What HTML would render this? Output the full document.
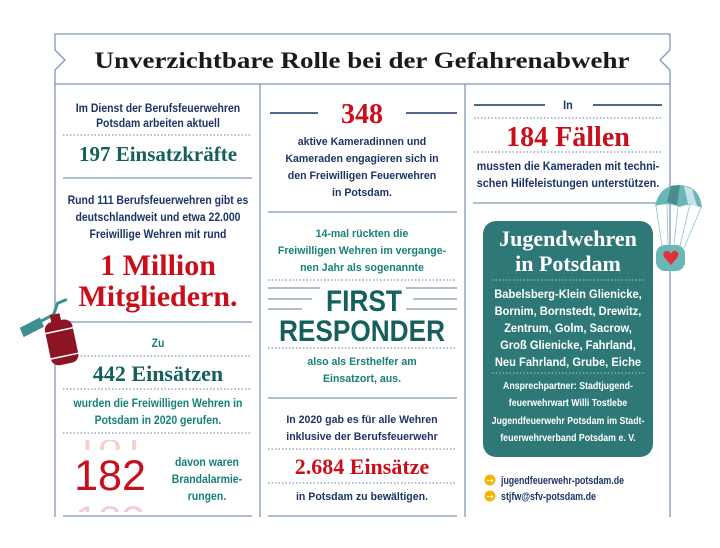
<!DOCTYPE html>
<html><head><meta charset="utf-8"><style>
html,body{margin:0;padding:0;background:#fff;}
svg{display:block;}
.n{font-family:"Liberation Sans Narrow","Liberation Sans",sans-serif;font-weight:bold;}
.s{font-family:"Liberation Serif",serif;font-weight:bold;}
.navy{fill:#1d3466;}
.teal{fill:#17807a;}
.dteal{fill:#155f5c;}
.red{fill:#c90f1c;}
</style></head><body>
<svg width="720" height="548" viewBox="0 0 720 548">
<g stroke="#8196b6" stroke-width="1.3" fill="none">
 <path d="M55 34 H670 V50 L660 60 L670 70 V84 H55 V70 L65 60 L55 50 Z" fill="#fff"/>
 <line x1="55" y1="84" x2="55" y2="517"/>
 <line x1="260" y1="84" x2="260" y2="517"/>
 <line x1="465" y1="84" x2="465" y2="517"/>
 <line x1="670" y1="84" x2="670" y2="517"/>
</g>
<text x="362" y="68" text-anchor="middle" class="s" font-size="23" fill="#1a1a1a" textLength="535" lengthAdjust="spacingAndGlyphs">Unverzichtbare Rolle bei der Gefahrenabwehr</text>

<g>
 <g stroke="#8196b6" stroke-width="1.3">
  <line x1="63" y1="178" x2="252" y2="178"/><line x1="63" y1="322" x2="252" y2="322"/><line x1="63" y1="516" x2="252" y2="516"/>
  <line x1="268" y1="212" x2="457" y2="212"/><line x1="268" y1="398" x2="457" y2="398"/><line x1="268" y1="516" x2="457" y2="516"/>
  <line x1="473" y1="203" x2="660" y2="203"/>
  <line x1="268" y1="288" x2="320" y2="288"/><line x1="268" y1="299" x2="312" y2="299"/><line x1="268" y1="309" x2="302" y2="309"/>
  <line x1="406" y1="288" x2="457" y2="288"/><line x1="413" y1="299" x2="457" y2="299"/><line x1="406" y1="309" x2="457" y2="309"/>
 </g>
 <g stroke="#1d3466" stroke-width="1.5">
  <line x1="270" y1="113" x2="318" y2="113"/><line x1="406" y1="113" x2="457" y2="113"/>
  <line x1="474" y1="105" x2="545" y2="105"/><line x1="593" y1="105" x2="662" y2="105"/>
 </g>
 <g stroke="#8196b6" stroke-width="1.2" stroke-dasharray="1.5 2">
  <line x1="63" y1="135" x2="252" y2="135"/><line x1="63" y1="356" x2="252" y2="356"/><line x1="63" y1="389" x2="252" y2="389"/><line x1="63" y1="433" x2="252" y2="433"/>
  <line x1="268" y1="280" x2="457" y2="280"/><line x1="268" y1="348" x2="457" y2="348"/><line x1="268" y1="449" x2="457" y2="449"/><line x1="268" y1="483" x2="457" y2="483"/>
  <line x1="474" y1="118" x2="662" y2="118"/><line x1="474" y1="152" x2="662" y2="152"/>
 </g>
</g>

<g text-anchor="middle">
 <g transform="matrix(0.91 0 0 1 14.2 0)">
 <text class="n navy" font-size="11.5" x="158" y="112">Im Dienst der Berufsfeuerwehren</text>
 <text class="n navy" font-size="11.5" x="158" y="127">Potsdam arbeiten aktuell</text>
 <text class="n navy" font-size="11.5" x="158" y="204">Rund 111 Berufsfeuerwehren gibt es</text>
 <text class="n navy" font-size="11.5" x="158" y="221">deutschlandweit und etwa 22.000</text>
 <text class="n navy" font-size="11.5" x="158" y="238">Freiwillige Wehren mit rund</text>
 <text class="n teal" font-size="11.5" x="158" y="347">Zu</text>
 <text class="n teal" font-size="11.5" x="158" y="407">wurden die Freiwilligen Wehren in</text>
 <text class="n teal" font-size="11.5" x="158" y="424">Potsdam in 2020 gerufen.</text>
 </g>
 <g transform="matrix(0.91 0 0 1 18.6 0)">
 <text class="n teal" font-size="11.5" x="207" y="466">davon waren</text>
 <text class="n teal" font-size="11.5" x="207" y="483">Brandalarmie-</text>
 <text class="n teal" font-size="11.5" x="207" y="500">rungen.</text>
 </g>
 <text class="s dteal" font-size="21" x="158" y="161">197 Einsatzkräfte</text>
 <text class="s red" font-size="30" x="158" y="275">1 Million</text>
 <text class="s red" font-size="30" x="158" y="306">Mitgliedern.</text>
 <text class="s dteal" font-size="22" x="158" y="381">442 Einsätzen</text>
 <g>
  <text font-family="Liberation Sans, sans-serif" font-size="42" fill="#f4cfd1" x="110" y="455" clip-path="url(#ct)">181</text>
  <text font-family="Liberation Sans, sans-serif" font-size="42" fill="#f4cfd1" x="110" y="535" clip-path="url(#cb)">183</text>
  <text font-family="Liberation Sans, sans-serif" font-size="43" fill="#c90f1c" x="110" y="490">182</text>
 </g>
</g>
<defs>
 <clipPath id="ct"><rect x="60" y="440" width="100" height="10"/></clipPath>
 <clipPath id="cb"><rect x="60" y="502" width="100" height="10"/></clipPath>
</defs>

<g text-anchor="middle">
 <g transform="matrix(0.92 0 0 1 28.96 0)">
 <text class="n navy" font-size="11.5" x="362" y="145">aktive Kameradinnen und</text>
 <text class="n navy" font-size="11.5" x="362" y="162">Kameraden engagieren sich in</text>
 <text class="n navy" font-size="11.5" x="362" y="179">den Freiwilligen Feuerwehren</text>
 <text class="n navy" font-size="11.5" x="362" y="196">in Potsdam.</text>
 <text class="n teal" font-size="11.5" x="362" y="237">14-mal rückten die</text>
 <text class="n teal" font-size="11.5" x="362" y="254">Freiwilligen Wehren im vergange-</text>
 <text class="n teal" font-size="11.5" x="362" y="271">nen Jahr als sogenannte</text>
 <text class="n teal" font-size="11.5" x="362" y="365">also als Ersthelfer am</text>
 <text class="n teal" font-size="11.5" x="362" y="382">Einsatzort, aus.</text>
 <text class="n navy" font-size="11.5" x="362" y="423">In 2020 gab es für alle Wehren</text>
 <text class="n navy" font-size="11.5" x="362" y="440">inklusive der Berufsfeuerwehr</text>
 <text class="n navy" font-size="11.5" x="362" y="500">in Potsdam zu bewältigen.</text>
 </g>
 <text class="s red" font-size="28" x="362" y="123">348</text>
 <text class="n dteal" font-size="30" x="364" y="311" textLength="76" lengthAdjust="spacingAndGlyphs">FIRST</text>
 <text class="n dteal" font-size="30" x="362" y="341" textLength="166" lengthAdjust="spacingAndGlyphs">RESPONDER</text>
 <text class="s red" font-size="22" x="362" y="474">2.684 Einsätze</text>
</g>

<g text-anchor="middle">
 <g transform="matrix(0.94 0 0 1 34.08 0)">
 <text class="n navy" font-size="11.5" x="568" y="109">In</text>
 <text class="n navy" font-size="11.5" x="568" y="170">mussten die Kameraden mit techni-</text>
 <text class="n navy" font-size="11.5" x="568" y="187">schen Hilfeleistungen unterstützen.</text>
 </g>
 <text class="s red" font-size="28" x="568" y="146">184 Fällen</text>
 <g>
  <rect x="483" y="221" width="170" height="236" rx="13" fill="#2f7878"/>
  <text class="s" fill="#fff" font-size="22" x="568" y="246">Jugendwehren</text>
  <text class="s" fill="#fff" font-size="22" x="568" y="271">in Potsdam</text>
  <line x1="492" y1="280" x2="645" y2="280" stroke="#a9c9c9" stroke-width="1" stroke-dasharray="1.5 2"/>
  <g transform="matrix(0.93 0 0 1 39.76 0)">
  <text class="n" fill="#fff" font-size="12" x="568" y="298">Babelsberg-Klein Glienicke,</text>
  <text class="n" fill="#fff" font-size="12" x="568" y="315">Bornim, Bornstedt, Drewitz,</text>
  <text class="n" fill="#fff" font-size="12" x="568" y="332">Zentrum, Golm, Sacrow,</text>
  <text class="n" fill="#fff" font-size="12" x="568" y="349">Groß Glienicke, Fahrland,</text>
  <text class="n" fill="#fff" font-size="12" x="568" y="366">Neu Fahrland, Grube, Eiche</text>
  </g>
  <line x1="492" y1="373" x2="645" y2="373" stroke="#a9c9c9" stroke-width="1" stroke-dasharray="1.5 2"/>
  <g transform="matrix(0.88 0 0 1 68.16 0)">
  <text class="n" fill="#fff" font-size="10" x="568" y="389">Ansprechpartner: Stadtjugend-</text>
  <text class="n" fill="#fff" font-size="10" x="568" y="406">feuerwehrwart Willi Tostlebe</text>
  <text class="n" fill="#fff" font-size="10" x="568" y="424">Jugendfeuerwehr Potsdam im Stadt-</text>
  <text class="n" fill="#fff" font-size="10" x="568" y="441">feuerwehrverband Potsdam e. V.</text>
  </g>
 </g>
 <g>
  <circle cx="490" cy="480" r="5.5" fill="#f5b500"/>
  <text x="490" y="483.5" fill="#fff" font-size="9" font-family="DejaVu Sans, sans-serif">→</text>
  <text class="n navy" font-size="11" x="501" y="484" text-anchor="start" font-weight="normal" textLength="123" lengthAdjust="spacingAndGlyphs">jugendfeuerwehr-potsdam.de</text>
 </g>
 <g>
  <circle cx="490" cy="496" r="5.5" fill="#f5b500"/>
  <text x="490" y="499.5" fill="#fff" font-size="9" font-family="DejaVu Sans, sans-serif">→</text>
  <text class="n navy" font-size="11" x="501" y="500" text-anchor="start" font-weight="normal" textLength="95" lengthAdjust="spacingAndGlyphs">stjfw@sfv-potsdam.de</text>
 </g>
</g>

<g>
 <path d="M655 206 Q660 184 680 185 Q700 186 702 208 Q690 202 680 207 Q668 202 655 206 Z" fill="#6bb7b8"/>
 <path d="M671 186 L680 185 L677 205 L667 202 Z" fill="#4a8d90"/>
 <path d="M684 186 L692 189 L697 206 L688 204 Z" fill="#c6e5ea"/>
 <g stroke="#8cc7c9" stroke-width="0.8"><line x1="656" y1="206" x2="662" y2="246"/><line x1="667" y1="203" x2="668" y2="245"/><line x1="678" y1="206" x2="674" y2="245"/><line x1="690" y1="204" x2="680" y2="246"/><line x1="701" y1="208" x2="684" y2="248"/></g>
 <rect x="656" y="245" width="29" height="26" rx="9" fill="#6bb7b8"/>
 <path d="M671 265 L664 257 Q662 251 667 251 Q670 251 671 254 Q673 250 676 251 Q680 253 677 258 Z" fill="#e2303a"/>
</g>

<g transform="rotate(-12 58 335)">
 <path d="M22 320 L44 314 L46 324 L24 330 Z" fill="#3e8f92"/>
 <path d="M44 318 L58 314 L64 304 L74 302" stroke="#3e8f92" stroke-width="3" fill="none"/>
 <rect x="54" y="314" width="10" height="8" fill="#8d1523"/>
 <rect x="46" y="321" width="28" height="44" rx="8" fill="#8d1523"/>
 <line x1="46" y1="331" x2="74" y2="331" stroke="#fff" stroke-width="1.5"/>
 <line x1="46" y1="357" x2="74" y2="357" stroke="#fff" stroke-width="1.5"/>
</g>
</svg>
</body></html>
